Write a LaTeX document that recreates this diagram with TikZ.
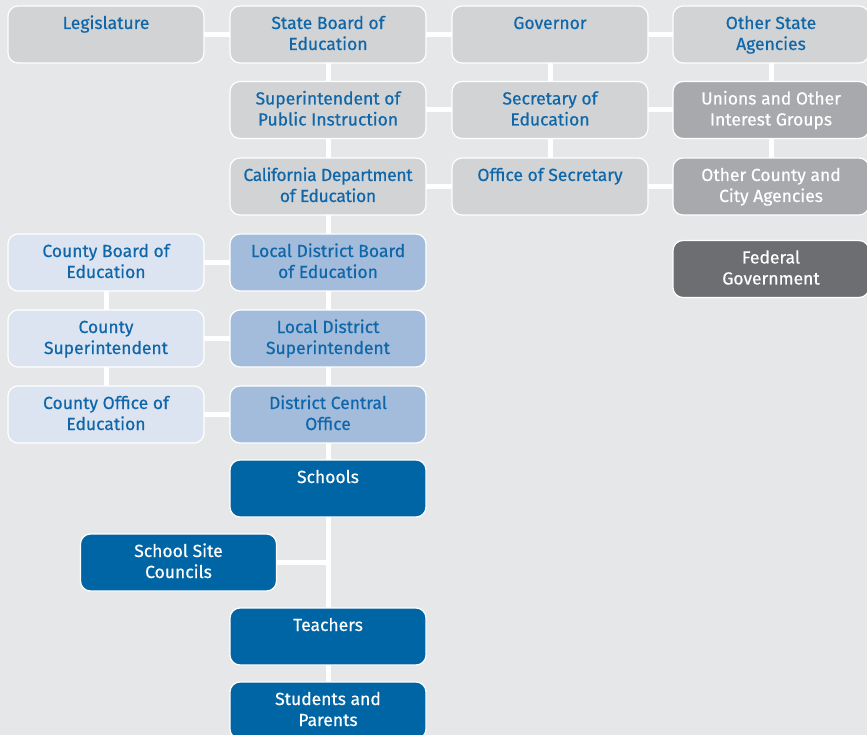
\documentclass[tikz,border=0pt]{standalone}
\usepackage{fontspec}
\setmainfont{Fira Sans}[FakeBold=0.5,BoldFont=*]
\definecolor{cBg}{HTML}{E6E7E8}
\definecolor{cGrayA}{HTML}{D1D3D4}
\definecolor{cGrayB}{HTML}{A7A9AC}
\definecolor{cGrayC}{HTML}{6D6E71}
\definecolor{cBlueA}{HTML}{DCE4F2}
\definecolor{cBlueB}{HTML}{A3BCDC}
\definecolor{cBlueC}{HTML}{0065A4}
\definecolor{cTxt}{HTML}{0F67A9}
\newcommand{\bt}[1]{\parbox[c][57pt][t]{194pt}{\centering\rule{0pt}{23pt}#1}}
\tikzset{
  box/.style={rectangle, rounded corners=10pt, draw=white, line width=1.2pt,
    inner sep=0pt, outer sep=0pt, minimum width=196pt, minimum height=57pt,
    font=\fontsize{17.5}{21}\selectfont\bfseries},
  gA/.style={box, fill=cGrayA, text=cTxt},
  gB/.style={box, fill=cGrayB, text=white},
  gC/.style={box, fill=cGrayC, text=white},
  bA/.style={box, fill=cBlueA, text=cTxt},
  bB/.style={box, fill=cBlueB, text=cTxt},
  bC/.style={box, fill=cBlueC, text=white},
  conn/.style={draw=white, line width=5pt}
}
\begin{document}
\begin{tikzpicture}[x=1pt,y=-1pt]
\useasboundingbox (0,0) rectangle (867,735);
\fill[cBg] (0,0) rectangle (867,735);
% row 1
\node[gA] (leg) at (106,34.5) {\bt{Legislature}};
\node[gA] (sbe) at (328,34.5) {\bt{State Board of\\Education}};
\node[gA] (gov) at (550,34.5) {\bt{Governor}};
\node[gA] (osa) at (771,34.5) {\bt{Other State\\Agencies}};
% row 2
\node[gA] (spi) at (328,110) {\bt{Superintendent of\\Public Instruction}};
\node[gA] (sec) at (550,110) {\bt{Secretary of\\Education}};
\node[gB] (uni) at (771,110) {\bt{Unions and Other\\Interest Groups}};
% row 3
\node[gA] (cde) at (328,186.5) {\bt{\addfontfeature{LetterSpace=-2}California Department\\of Education}};
\node[gA] (off) at (550,186.5) {\bt{Office of Secretary}};
\node[gB] (oca) at (771,186.5) {\bt{Other County and\\City Agencies}};
% federal
\node[gC] (fed) at (771,269) {\bt{Federal\\Government}};
% rows 4-6
\node[bA] (cbe) at (106,262.5) {\bt{County Board of\\Education}};
\node[bB] (ldb) at (328,262.5) {\bt{Local District Board\\of Education}};
\node[bA] (csu) at (106,338.5) {\bt{County\\Superintendent}};
\node[bB] (lds) at (328,338.5) {\bt{Local District\\Superintendent}};
\node[bA] (coe) at (106,414.5) {\bt{County Office of\\Education}};
\node[bB] (dco) at (328,414.5) {\bt{District Central\\Office}};
% schools
\node[bC] (sch) at (328,488.5) {\bt{Schools}};
\node[bC] (ssc) at (178.5,562.5) {\bt{School Site\\Councils}};
\node[bC] (tea) at (328,636.5) {\bt{Teachers}};
\node[bC] (stu) at (328,710.5) {\bt{Students and\\Parents}};
% connectors
\draw[conn] (leg) -- (sbe);
\draw[conn] (sbe) -- (gov);
\draw[conn] (gov) -- (osa);
\draw[conn] (spi) -- (sec);
\draw[conn] (sec) -- (uni);
\draw[conn] (cde) -- (off);
\draw[conn] (off) -- (oca);
\draw[conn] (sbe) -- (spi);
\draw[conn] (spi) -- (cde);
\draw[conn] (cde) -- (ldb);
\draw[conn] (ldb) -- (lds);
\draw[conn] (lds) -- (dco);
\draw[conn] (dco) -- (sch);
\draw[conn] (sch) -- (tea);
\draw[conn] (tea) -- (stu);
\draw[conn] (gov) -- (sec);
\draw[conn] (sec) -- (off);
\draw[conn] (osa) -- (uni);
\draw[conn] (uni) -- (oca);
\draw[conn] (cbe) -- (ldb);
\draw[conn] (csu) -- (lds);
\draw[conn] (coe) -- (dco);
\draw[conn] (cbe) -- (csu);
\draw[conn] (csu) -- (coe);
\coordinate (sscj) at (ssc -| sch);
\draw[conn] (ssc) -- (sscj);
\end{tikzpicture}
\end{document}
